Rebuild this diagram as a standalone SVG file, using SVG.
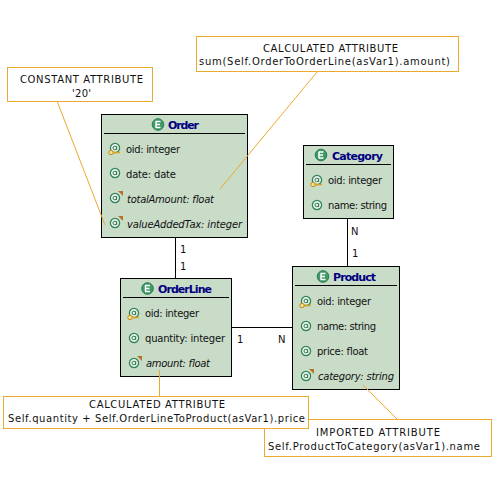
<svg xmlns="http://www.w3.org/2000/svg" xmlns:xlink="http://www.w3.org/1999/xlink" width="500" height="500" viewBox="0 0 500 500">
<style>
text{font-family:"DejaVu Sans","Liberation Sans",sans-serif;font-size:10px;fill:#111}
.t{font-weight:bold;font-size:11px;fill:#000080}
.i{font-style:italic;font-size:10px}
.box{fill:#c9dcc8;stroke:#000;stroke-width:1}
.hr{stroke:#000;stroke-width:1}
.note{fill:#fff;stroke:#eca92f;stroke-width:1}
.bl{stroke:#000;stroke-width:1;fill:none}
.or{stroke:#eca92f;stroke-width:1;fill:none}
</style>
<defs>
<g id="a"><circle cx="0" cy="0" r="4.6" fill="#eef5ee" stroke="#2f8558" stroke-width="1.3"/><circle cx="-0.2" cy="0" r="1.8" fill="none" stroke="#2f7a50" stroke-width="1"/><line x1="1.7" y1="-1.8" x2="1.7" y2="2" stroke="#2f7a50" stroke-width="1"/></g>
<g id="k"><circle cx="-4" cy="4.500" r="2.200" fill="#fbe08a" stroke="#c08a1a" stroke-width="1"/><line x1="-1.800" y1="4.500" x2="5" y2="4.500" stroke="#d9a520" stroke-width="1.600"/></g>
<path id="d" d="M1 -3H6V2Z" fill="#b5702a"/>
<g id="e"><circle cx="0" cy="0" r="5.800" fill="#3f9a68" stroke="#2a7a50" stroke-width="1"/><path d="M-2.500 -3H2.500M-2.500 0H2M-2.500 3H2.500M-2 -3V3" stroke="#fff" stroke-width="1.500" fill="none"/></g>
</defs>
<g id="order">
<rect class="box" x="101.500" y="114.500" width="146" height="123"/>
<line class="hr" x1="104" y1="133.500" x2="245" y2="133.500"/>
<use xlink:href="#e" x="158" y="124.500"/><text class="t" x="168" y="129" textLength="31">Order</text>
<use xlink:href="#a" x="115" y="148"/><use xlink:href="#k" x="115" y="148"/><text x="126" y="153" textLength="54">oid: integer</text>
<use xlink:href="#a" x="115" y="173"/><text x="126" y="178" textLength="50">date: date</text>
<use xlink:href="#a" x="115" y="198"/><use xlink:href="#d" x="117" y="194"/><text class="i" x="127" y="203" textLength="87">totalAmount: float</text>
<use xlink:href="#a" x="115" y="223"/><use xlink:href="#d" x="117" y="219"/><text class="i" x="127" y="228" textLength="115">valueAddedTax: integer</text>
</g>
<g id="orderline">
<rect class="box" x="120.500" y="278.500" width="111" height="98"/>
<line class="hr" x1="123" y1="297.500" x2="229" y2="297.500"/>
<use xlink:href="#e" x="147.500" y="288.500"/><text class="t" x="158" y="293" textLength="54">OrderLine</text>
<use xlink:href="#a" x="134" y="313"/><use xlink:href="#k" x="134" y="313"/><text x="145" y="317" textLength="54">oid: integer</text>
<use xlink:href="#a" x="134" y="338"/><text x="145" y="342" textLength="80">quantity: integer</text>
<use xlink:href="#a" x="134" y="363"/><use xlink:href="#d" x="136" y="359"/><text class="i" x="146" y="367" textLength="64">amount: float</text>
</g>
<g id="category">
<rect class="box" x="303.500" y="145.500" width="90" height="73"/>
<line class="hr" x1="306" y1="164.500" x2="391" y2="164.500"/>
<use xlink:href="#e" x="321" y="155"/><text class="t" x="332" y="160" textLength="51">Category</text>
<use xlink:href="#a" x="317" y="180"/><use xlink:href="#k" x="317" y="180"/><text x="328" y="184" textLength="54">oid: integer</text>
<use xlink:href="#a" x="317" y="205"/><text x="328" y="209" textLength="59">name: string</text>
</g>
<g id="product">
<rect class="box" x="292.500" y="266.500" width="107" height="123"/>
<line class="hr" x1="295" y1="285.500" x2="397" y2="285.500"/>
<use xlink:href="#e" x="323" y="276.500"/><text class="t" x="333" y="281" textLength="43">Product</text>
<use xlink:href="#a" x="306" y="301"/><use xlink:href="#k" x="306" y="301"/><text x="317" y="305" textLength="54">oid: integer</text>
<use xlink:href="#a" x="306" y="326"/><text x="317" y="330" textLength="59">name: string</text>
<use xlink:href="#a" x="306" y="351"/><text x="317" y="355" textLength="51">price: float</text>
<use xlink:href="#a" x="306" y="376"/><use xlink:href="#d" x="308" y="372"/><text class="i" x="318" y="380" textLength="76">category: string</text>
</g>
<g id="note-constant">
<rect class="note" x="7.500" y="67.500" width="145" height="34"/>
<text x="20" y="83" textLength="123">CONSTANT ATTRIBUTE</text><text x="72" y="97" textLength="19">'20'</text>
</g>
<g id="note-total">
<rect class="note" x="196.500" y="36.500" width="262" height="35"/>
<text x="263" y="52" textLength="135">CALCULATED ATTRIBUTE</text><text x="199" y="65" textLength="251">sum(Self.OrderToOrderLine(asVar1).amount)</text>
</g>
<g id="note-category">
<rect class="note" x="264.500" y="419.500" width="227" height="37"/>
<text x="316" y="436" textLength="124">IMPORTED ATTRIBUTE</text><text x="268" y="450" textLength="212">Self.ProductToCategory(asVar1).name</text>
</g>
<g id="note-amount">
<rect class="note" x="3.500" y="396.500" width="305" height="32"/>
<text x="89" y="408" textLength="136">CALCULATED ATTRIBUTE</text><text x="8" y="422" textLength="297">Self.quantity + Self.OrderLineToProduct(asVar1).price</text>
</g>
<g id="connectors">
<line class="bl" x1="175.500" y1="238" x2="175.500" y2="278"/>
<line class="bl" x1="347.500" y1="219" x2="347.500" y2="266"/>
<line class="bl" x1="232" y1="327.500" x2="292" y2="327.500"/>
<line class="or" x1="57" y1="101" x2="105" y2="225"/>
<line class="or" x1="317" y1="72" x2="220" y2="189"/>
<line class="or" x1="159.500" y1="370" x2="159.500" y2="396"/>
<line class="or" x1="363" y1="385" x2="397" y2="419"/>
<text x="180" y="253">1</text><text x="180" y="270">1</text>
<text x="351" y="235">N</text><text x="352" y="257">1</text>
<text x="237" y="343">1</text><text x="278" y="343">N</text>
</g>
</svg>
